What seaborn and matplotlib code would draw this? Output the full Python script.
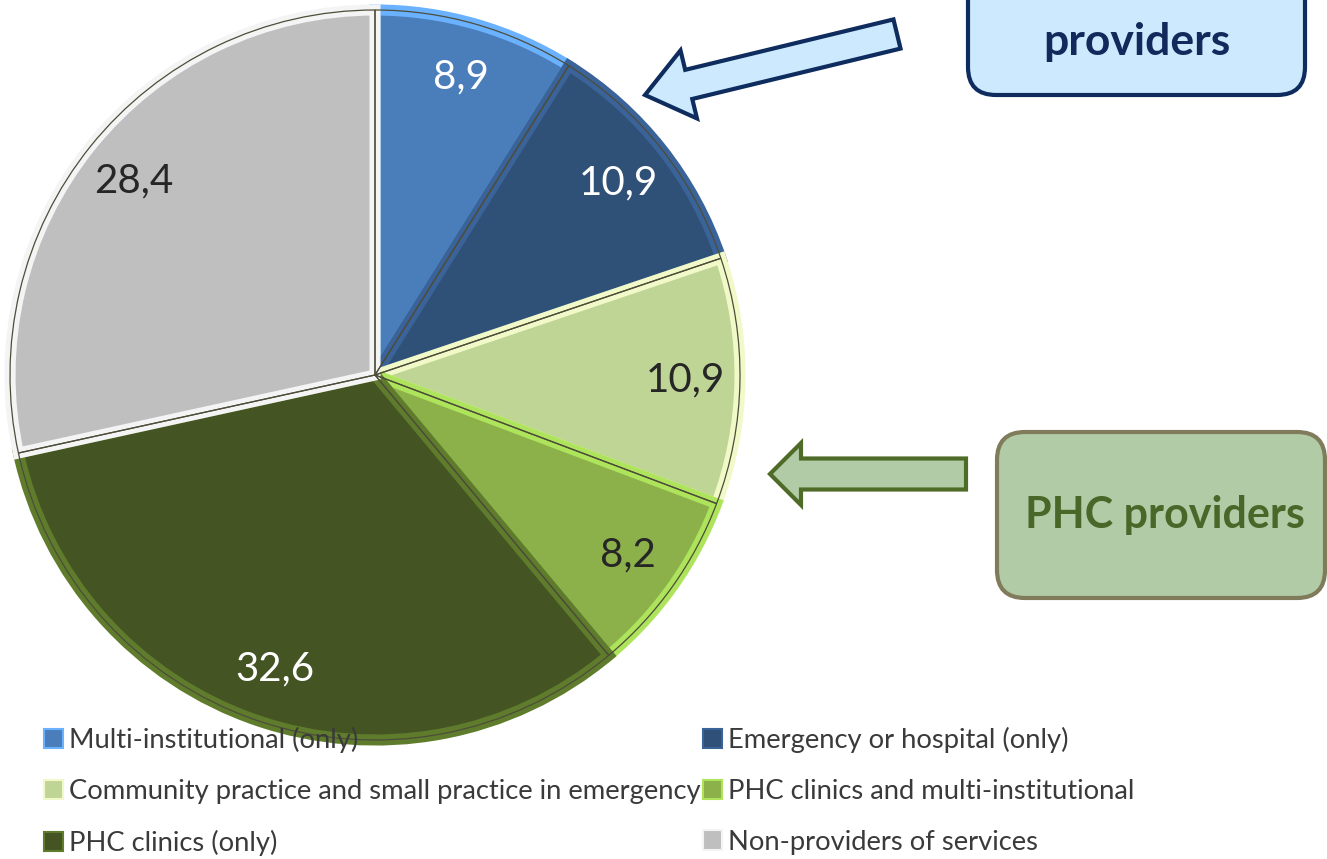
import matplotlib
matplotlib.use("Agg")
import matplotlib.pyplot as plt
import seaborn as sns
import numpy as np
from matplotlib.patches import Patch, FancyArrow, FancyBboxPatch

# Chart data
categories = [
    "Multi-institutional (only)",
    "Emergency or hospital (only)",
    "Community practice and small practice in emergency",
    "PHC clinics and multi-institutional",
    "PHC clinics (only)",
    "Non-providers of services",
]
shares = [8.9, 10.9, 10.9, 8.2, 32.6, 28.4]
value_labels = ["8,9", "10,9", "10,9", "8,2", "32,6", "28,4"]

face_colors = ["#4A7EBB", "#2F5077", "#BFD596", "#8CB04A", "#455423", "#BFBFBF"]
bevel_colors = ["#6AB2FF", "#3A6399", "#F2F9C8", "#AEE35C", "#5E7C2B", "#F4F4F4"]
text_colors = ["white", "white", "#262626", "#262626", "white", "#262626"]

# legend reads row by row in the reference, matplotlib fills columns first
legend_order = [0, 2, 4, 1, 3, 5]

sns.set_theme(style="white")
plt.rcParams["font.family"] = ["Lato", "DejaVu Sans"]

W, H = 1327, 859
fig = plt.figure(figsize=(W / 100, H / 100), dpi=100)
ax = fig.add_axes([0, 0, 1, 1])

cx, cy, R = 375, H - 375, 365

palette = sns.color_palette(face_colors)
wedges, _ = ax.pie(shares, colors=palette, startangle=90, counterclock=False,
                   center=(cx, cy), radius=R,
                   wedgeprops=dict(linewidth=0))

# bevel: a light inner border clipped to each wedge
for w, bc in zip(wedges, bevel_colors):
    w.set_edgecolor(bc)
    w.set_linewidth(8)
    w.set_clip_path(w)

# thin dark outline over the wedges
outline, _ = ax.pie(shares, colors=["none"] * len(shares), startangle=90,
                    counterclock=False, center=(cx, cy), radius=R,
                    wedgeprops=dict(linewidth=0.9, edgecolor="#4d4d3a", fill=False))

# value labels inside the slices
for w, lab, tc in zip(wedges, value_labels, text_colors):
    mid = np.deg2rad((w.theta1 + w.theta2) / 2)
    ax.text(cx + 0.85 * R * np.cos(mid), cy + 0.85 * R * np.sin(mid), lab,
            ha="center", va="center", fontsize=29, color=tc)

ax.set_xlim(0, W)
ax.set_ylim(0, H)
ax.set_aspect("equal")
ax.axis("off")

# callout: top box (cut off by the crop) and its arrow
ax.add_patch(FancyBboxPatch((968, H - 95), 337, 160,
                            boxstyle="round,pad=0,rounding_size=28",
                            facecolor="#CCE9FD", edgecolor="#0E2C5E", linewidth=3))
ax.text(1137, H - 42, "providers", ha="center", va="center", fontsize=32,
        fontweight="bold", color="#13295B")
ax.add_patch(FancyArrow(897, H - 34, -252, -61, width=30, head_width=70,
                        head_length=45, length_includes_head=True,
                        facecolor="#CCE9FD", edgecolor="#0E2C5E", linewidth=3))

# callout: PHC providers box and its arrow
ax.add_patch(FancyBboxPatch((997, H - 598), 328, 166,
                            boxstyle="round,pad=0,rounding_size=28",
                            facecolor="#B0CBA5", edgecolor="#7F7B5B", linewidth=3))
ax.text(1165, H - 515, "PHC providers", ha="center", va="center", fontsize=31,
        fontweight="bold", color="#4A6628")
ax.add_patch(FancyArrow(966, H - 474, -196, 0, width=31, head_width=62,
                        head_length=31, length_includes_head=True,
                        facecolor="#B0CBA5", edgecolor="#4E6B28", linewidth=3))

# legend
handles = [Patch(facecolor=face_colors[i], edgecolor=bevel_colors[i], linewidth=1.5)
           for i in legend_order]
labels = [categories[i] for i in legend_order]
fig.legend(handles, labels, ncol=2, loc="upper left",
           bbox_to_anchor=(44 / W, 1 - 727 / H), frameon=False,
           fontsize=19.7, handlelength=0.7, handleheight=0.7,
           handletextpad=0.2, columnspacing=0.1, labelspacing=0.94,
           borderpad=0, borderaxespad=0, labelcolor="#3a3a3a")

fig.savefig("out.png", dpi=100)
